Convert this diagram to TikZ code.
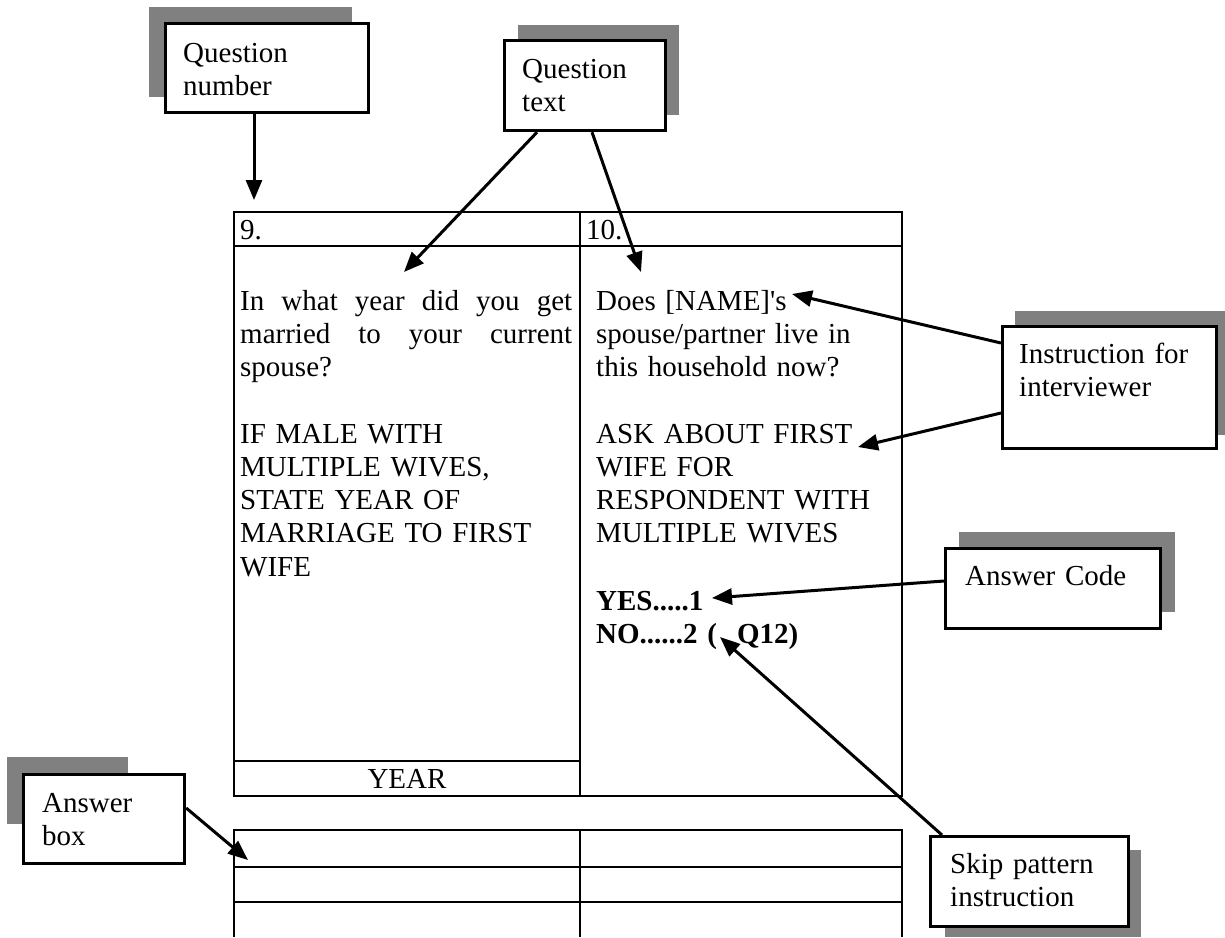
\documentclass[tikz,border=0pt]{standalone}
\usepackage{fontspec}
\setmainfont{Liberation Serif}
\usetikzlibrary{arrows.meta,calc}
\definecolor{shade}{RGB}{128,128,128}
\newcommand{\straightq}{{\addfontfeature{Ligatures=TeXOff}'}}
\begin{document}
\begin{tikzpicture}[x=1pt,y=-1pt,
  tline/.style={line width=2.2pt},
  cbox/.style={draw, line width=3.2pt, fill=white, anchor=north west, inner sep=0pt},
  shadowbox/.style={fill=shade, draw=none},
  big/.style={font=\fontsize{29pt}{33.3pt}\selectfont},
  ctext/.style={big, anchor=base west, inner sep=0pt, text width=240pt, align=left},
  ttext/.style={big, anchor=base west, inner sep=0pt},
  arr/.style={line width=3pt, -{Triangle[length=20pt,width=16pt]}},
]
\useasboundingbox (0,0) rectangle (1225,937);
\fill[white] (0,0) rectangle (1225,937);

% ---------- upper table ----------
\draw[tline] (234,212) rectangle (902,796);
\draw[tline] (234,246) -- (902,246);
\draw[tline] (580,212) -- (580,796);
\draw[tline] (234,761) -- (580,761);

% ---------- lower table ----------
\draw[tline] (234,937) -- (234,830) -- (902,830) -- (902,937);
\draw[tline] (580,830) -- (580,937);
\draw[tline] (234,867) -- (902,867);
\draw[tline] (234,902) -- (902,902);

% ---------- table texts ----------
\node[ttext] (n9) at (240,239) {9.};
\node[ttext] (n10) at (586,239) {10.};
\node[big, inner sep=0pt, anchor=base] (year) at (407,788) {YEAR};
\node[ctext, text width=332pt] (q9a) at (240,310)
  {In\hfill what\hfill year\hfill did\hfill you\hfill get\\married\hfill to\hfill your\hfill current\\spouse?};
\node[ctext, text width=330pt] (q9b) at (240,443)
  {IF MALE WITH\\MULTIPLE WIVES,\\STATE YEAR OF\\MARRIAGE TO FIRST\\WIFE};
\node[ctext, text width=300pt] (q10a) at (596,310)
  {Does [NAME]\straightq s\\spouse/partner live in\\this household now?};
\node[ctext, text width=300pt] (q10b) at (596,443)
  {ASK ABOUT FIRST\\WIFE FOR\\RESPONDENT WITH\\MULTIPLE WIVES};
\node[ctext, text width=300pt, font=\fontsize{29pt}{33.3pt}\selectfont\bfseries] (q10c) at (596,610)
  {YES.....1\\NO......2 (\hspace{20pt}Q12)};

% ---------- shadows ----------
\fill[shadowbox] (149,7) rectangle (352,97);
\fill[shadowbox] (518,25) rectangle (679,115);
\fill[shadowbox] (1015,311) rectangle (1225,435);
\fill[shadowbox] (959,532) rectangle (1175,612);
\fill[shadowbox] (7,757) rectangle (128,824);
\fill[shadowbox] (945,850) rectangle (1141,937);

% ---------- callout boxes ----------
\node[cbox, minimum width=203pt, minimum height=89pt] (qn) at (164,22) {};
\node[cbox, minimum width=161pt, minimum height=90pt] (qt) at (503,39) {};
\node[cbox, minimum width=214pt, minimum height=122pt] (ins) at (1001,325) {};
\node[cbox, minimum width=215pt, minimum height=80pt] (ac) at (944,547) {};
\node[cbox, minimum width=161pt, minimum height=89pt] (ab) at (22,773) {};
\node[cbox, minimum width=198pt, minimum height=90pt] (sk) at (929,835) {};

\node[ctext] (tqn) at (183,62) {Question\\number};
\node[ctext] (tqt) at (522,78) {Question\\text};
\node[ctext] (tins) at (1019,363) {Instruction for\\interviewer};
\node[ctext] (tac) at (965,585) {Answer Code};
\node[ctext] (tab) at (42,812) {Answer\\box};
\node[ctext] (tsk) at (950,873) {Skip pattern\\instruction};

% ---------- arrow targets ----------
\coordinate (tipQN) at (254,200);
\coordinate (tipQ9) at (404,272);
\coordinate (tipQ10) at (641,272);
\coordinate (tipName) at (792,294);
\coordinate (tipAsk) at (858,447);
\coordinate (tipYes) at (712,598);
\coordinate (tipSkip) at (720,637);
\coordinate (tipAB) at (248,860);

% ---------- arrows ----------
\draw[arr] (tipQN |- qn.south) -- (tipQN);
\draw[arr] ($(qt.south west)+(34,0)$) -- (tipQ9);
\draw[arr] ($(qt.south west)+(89,0)$) -- (tipQ10);
\draw[arr] ($(ins.north west)+(0,18)$) -- (tipName);
\draw[arr] ($(ins.north west)+(0,88)$) -- (tipAsk);
\draw[arr] ($(ac.north west)+(0,34)$) -- (tipYes);
\draw[arr] ($(sk.north west)+(13,0)$) -- (tipSkip);
\draw[arr] ($(ab.north east)+(0,35)$) -- (tipAB);
\end{tikzpicture}
\end{document}
